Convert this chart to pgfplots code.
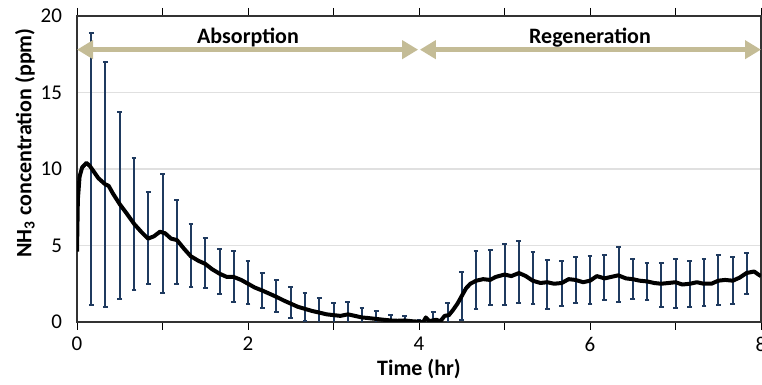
\documentclass[border=0pt]{standalone}
\usepackage{pgfplots}
\pgfplotsset{compat=1.18}
\usepackage{pgfplotstable}
\usepackage{fontspec}
\setmainfont{Carlito}
\usetikzlibrary{arrows.meta}
\definecolor{tanarrow}{HTML}{C4BC96}
\definecolor{errnavy}{HTML}{1F3A5F}
\definecolor{gridgray}{HTML}{E0E0E0}

\pgfplotstableread{
x y
0.000 4.6
0.010 8.0
0.030 9.5
0.060 10.1
0.110 10.4
0.150 10.2
0.200 9.8
0.250 9.4
0.330 9.0
0.370 8.9
0.420 8.4
0.500 7.7
0.580 7.1
0.670 6.4
0.750 5.9
0.830 5.45
0.900 5.6
0.970 5.9
1.030 5.8
1.100 5.45
1.170 5.35
1.250 4.8
1.330 4.3
1.420 4.0
1.500 3.8
1.580 3.45
1.670 3.15
1.750 2.95
1.830 2.95
1.920 2.75
2.000 2.5
2.080 2.25
2.170 2.05
2.250 1.85
2.330 1.65
2.420 1.4
2.500 1.2
2.580 1.0
2.670 0.85
2.750 0.72
2.830 0.62
2.920 0.5
3.000 0.45
3.080 0.4
3.170 0.5
3.250 0.4
3.330 0.3
3.420 0.25
3.500 0.2
3.580 0.15
3.670 0.1
3.750 0.08
3.830 0.1
3.920 0.05
4.000 0.02
4.050 0.0
4.080 0.3
4.120 0.05
4.200 0.15
4.250 0.05
4.300 0.4
4.350 0.45
4.400 0.8
4.450 1.2
4.500 1.7
4.550 2.2
4.600 2.5
4.670 2.7
4.750 2.8
4.830 2.75
4.900 2.95
5.000 3.1
5.080 3.0
5.170 3.2
5.250 3.0
5.330 2.7
5.420 2.55
5.500 2.6
5.580 2.5
5.670 2.55
5.750 2.8
5.830 2.75
5.920 2.6
6.000 2.7
6.080 3.0
6.170 2.85
6.250 2.95
6.330 3.05
6.420 2.85
6.500 2.8
6.580 2.7
6.670 2.65
6.750 2.55
6.830 2.5
6.920 2.55
7.000 2.6
7.080 2.45
7.170 2.5
7.250 2.6
7.330 2.5
7.420 2.5
7.500 2.7
7.580 2.75
7.670 2.7
7.750 2.9
7.830 3.2
7.920 3.3
7.970 3.1
8.000 3.0
}\meandata

\pgfplotstableread{
x y e
0.1667 10.0 8.9
0.3333 9.0 8.0
0.5000 7.6 6.1
0.6667 6.4 4.3
0.8333 5.5 3.0
1.0000 5.8 3.9
1.1667 5.25 2.75
1.3333 4.33 2.07
1.5000 3.85 1.65
1.6667 3.3 1.5
1.8333 3.0 1.67
2.0000 2.6 1.4
2.1667 2.05 1.15
2.3333 1.7 1.05
2.5000 1.28 1.02
2.6667 0.97 0.93
2.8333 0.75 0.82
3.0000 0.5 0.76
3.1667 0.5 0.78
3.3333 0.3 0.6
3.5000 0.22 0.5
3.6667 0.1 0.35
3.8333 0.08 0.29
4.0000 0.02 0.08
4.1667 0.15 0.5
4.3333 0.45 0.81
4.5000 1.7 1.6
4.6667 2.74 1.87
4.8333 2.9 1.8
5.0000 3.1 2.0
5.1667 3.27 2.03
5.3333 2.87 1.7
5.5000 2.47 1.6
5.6667 2.52 1.48
5.8333 2.76 1.52
6.0000 2.75 1.55
6.1667 2.88 1.47
6.3333 3.1 1.8
6.5000 2.83 1.3
6.6667 2.66 1.2
6.8333 2.4 1.45
7.0000 2.53 1.6
7.1667 2.48 1.52
7.3333 2.58 1.55
7.5000 2.75 1.65
7.6667 2.73 1.53
7.8333 3.15 1.35
}\errdata

\begin{document}
\begin{tikzpicture}
\begin{axis}[
  scale only axis,
  width=342pt, height=153pt,
  xmin=0, xmax=8, ymin=0, ymax=20,
  xtick={0,2,4,6,8},
  minor xtick={1,3,5,7},
  ytick={0,5,10,15,20},
  tick align=outside,
  major tick length=4pt,
  minor tick length=4pt,
  xtick style={black},
  ytick style={draw=none},
  ymajorgrids,
  grid style={gridgray, line width=0.6pt},
  axis line style={black!80, line width=0.6pt},
  tick label style={font=\fontsize{10.5}{12}\selectfont},
  /pgf/number format/assume math mode=true,
  xlabel={\textbf{Time (hr)}},
  ylabel={\textbf{NH\textsubscript{3} concentration (ppm)}},
  label style={font=\fontsize{11}{13}\selectfont},
  xlabel style={yshift=3pt},
  ylabel style={at={(ticklabel cs:0.585)}, yshift=-4pt},
  clip=true,
]
\addplot[draw=none, mark=none, forget plot,
  error bars/.cd, y dir=both, y explicit,
  error bar style={errnavy, line width=1pt},
  error mark options={errnavy, mark size=1.2pt, line width=1pt, rotate=90}]
  table[x=x, y=y, y error=e] {\errdata};
\addplot[black, line width=2pt, mark=none, line join=round] table[x=x, y=y] {\meandata};
\draw[tanarrow, line width=2.6pt, {Triangle[length=8pt,width=9pt]}-{Triangle[length=8pt,width=9pt]}] (axis cs:0,17.8) -- (axis cs:3.99,17.8);
\draw[tanarrow, line width=2.6pt, {Triangle[length=8pt,width=9pt]}-{Triangle[length=8pt,width=9pt]}] (axis cs:4.01,17.8) -- (axis cs:8,17.8);
\node[font=\fontsize{11}{13}\selectfont\bfseries] at (axis cs:2,18.6) {Absorption};
\node[font=\fontsize{11}{13}\selectfont\bfseries] at (axis cs:6,18.6) {Regeneration};
\end{axis}
\pgfresetboundingbox
\path[use as bounding box] ([xshift=-38.5pt,yshift=-31pt]current axis.south west) rectangle ([xshift=0.5pt,yshift=8pt]current axis.north east);
\end{tikzpicture}
\end{document}
